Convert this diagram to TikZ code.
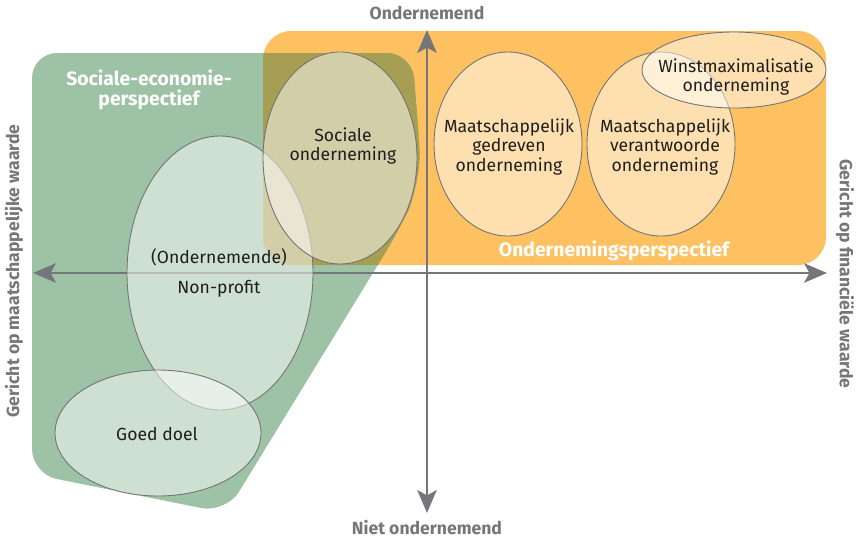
\documentclass[tikz,border=0pt]{standalone}
\usepackage{fontspec}
\setmainfont{Fira Sans}
\usepackage{tikz}
\usetikzlibrary{arrows.meta}
\usetikzlibrary{positioning}
\usetikzlibrary{calc}
\definecolor{AxisGray}{RGB}{118,118,122}
\definecolor{ZoneOrange}{RGB}{253,193,98}
\definecolor{ZoneGreen}{RGB}{157,194,166}
\definecolor{ZoneOlive}{RGB}{166,158,82}
\definecolor{InkColor}{RGB}{30,30,30}
\tikzstyle{axis} = [line width=1.6pt, AxisGray, {Stealth[length=13pt, width=11pt, inset=3pt]}-{Stealth[length=13pt, width=11pt, inset=3pt]}]
\tikzstyle{bubble} = [fill=white, fill opacity=0.5, draw=black!55, line width=0.5pt]
\tikzstyle{item} = [InkColor, align=center, font=\fontsize{10}{11}\selectfont]
\tikzstyle{zone} = [white, align=center, font=\fontsize{11}{11.5}\selectfont\bfseries]
\tikzstyle{axislabel} = [AxisGray, font=\fontsize{10}{12}\selectfont\bfseries]

\begin{document}
\begin{tikzpicture}[x=0.2mm, y=-0.2mm]
            \useasboundingbox (0,0) rectangle (857,540);

            % perspectives
            \fill[ZoneOrange, rounded corners=5.6mm] (263,31) rectangle (826,265);
            \fill[ZoneGreen, rounded corners=5mm] (32,53) -- (412,53) -- (418,125) .. controls (421,175) and (410,207) .. (398,232) -- (226,513) -- (32,474) -- cycle;
            \begin{scope}
                \clip[rounded corners=5.6mm] (263,31) rectangle (826,265);
                \fill[ZoneOlive, rounded corners=5mm] (32,53) -- (412,53) -- (418,125) .. controls (421,175) and (410,207) .. (398,232) -- (226,513) -- (32,474) -- cycle;
            \end{scope}

            % axes
            \coordinate (west) at (33,273);
            \coordinate (east) at (827,273);
            \coordinate (north) at (427,30);
            \coordinate (south) at (427,513);
            \draw[axis] (west) -- (east);
            \draw[axis] (south) -- (north);

            % organisations
            \draw[bubble] (220,273) ellipse [x radius=93, y radius=137];
            \draw[bubble] (158,433) ellipse [x radius=103, y radius=63];
            \draw[bubble] (340,158) ellipse [x radius=77, y radius=106];
            \draw[bubble] (508,144) ellipse [x radius=74, y radius=92];
            \draw[bubble] (661,144) ellipse [x radius=74, y radius=92];
            \draw[bubble] (734,70) ellipse [x radius=92, y radius=38];

            \node[item] (sociaal) at (343,146) {Sociale\\onderneming};
            \node[item] (ondernemende) at (219,257) {(Ondernemende)};
            \node[item] (nonprofit) at (219,289) {Non-profit};
            \node[item] (goeddoel) at (157,434) {Goed doel};
            \node[item] (gedreven) at (509,147) {Maatschappelijk\\gedreven\\onderneming};
            \node[item] (verantwoord) at (665,147) {Maatschappelijk\\verantwoorde\\onderneming};
            \node[item] (winst) at (736,77) {Winstmaximalisatie\\onderneming};

            \node[zone] (sociaaleco) at (149,90) {Sociale-economie-\\perspectief};
            \node[zone] (ondernemingsp) at (614,251) {Ondernemingsperspectief};

            \node[axislabel] (ondernemend) at (427,13) {Ondernemend};
            \node[axislabel] (nietondernemend) at (427,528) {Niet ondernemend};
            \node[axislabel, rotate=90] (maatschappelijk) at (14,271) {Gericht op maatschappelijke waarde};
            \node[axislabel, rotate=-90] (financieel) at (845,274) {Gericht op financiële waarde};
\end{tikzpicture}
\end{document}
